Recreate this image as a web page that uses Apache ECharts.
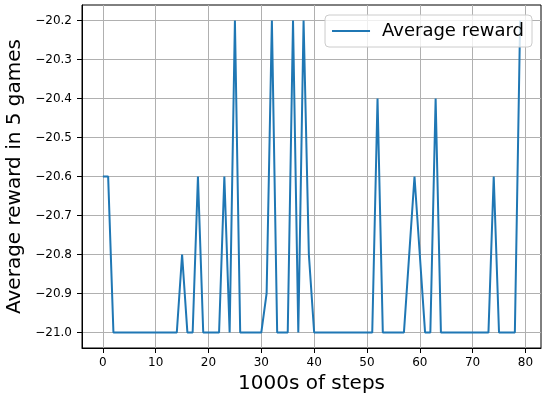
<!DOCTYPE html>
<html>
<head>
<meta charset="utf-8">
<script src="https://cdn.jsdelivr.net/npm/echarts@6/dist/echarts.min.js"></script>
<style>
  html, body { margin: 0; padding: 0; background: #fff; }
  #chart { width: 542px; height: 398px; }
</style>
</head>
<body>
<div id="chart"></div>
<script>
// Training progress: average reward over 5 games, sampled every 1000 steps
const steps = [
  0, 1, 2, 3, 4, 5, 6, 7, 8, 9,
  10, 11, 12, 13, 14, 15, 16, 17, 18, 19,
  20, 21, 22, 23, 24, 25, 26, 27, 28, 29,
  30, 31, 32, 33, 34, 35, 36, 37, 38, 39,
  40, 41, 42, 43, 44, 45, 46, 47, 48, 49,
  50, 51, 52, 53, 54, 55, 56, 57, 58, 59,
  60, 61, 62, 63, 64, 65, 66, 67, 68, 69,
  70, 71, 72, 73, 74, 75, 76, 77, 78, 79
];
const avgReward = [
  -20.6, -20.6, -21.0, -21.0, -21.0, -21.0, -21.0, -21.0, -21.0, -21.0,
  -21.0, -21.0, -21.0, -21.0, -21.0, -20.8, -21.0, -21.0, -20.6, -21.0,
  -21.0, -21.0, -21.0, -20.6, -21.0, -20.2, -21.0, -21.0, -21.0, -21.0,
  -21.0, -20.9, -20.2, -21.0, -21.0, -21.0, -20.2, -21.0, -20.2, -20.8,
  -21.0, -21.0, -21.0, -21.0, -21.0, -21.0, -21.0, -21.0, -21.0, -21.0,
  -21.0, -21.0, -20.4, -21.0, -21.0, -21.0, -21.0, -21.0, -20.8, -20.6,
  -20.8, -21.0, -21.0, -20.4, -21.0, -21.0, -21.0, -21.0, -21.0, -21.0,
  -21.0, -21.0, -21.0, -21.0, -20.6, -21.0, -21.0, -21.0, -21.0, -20.2
];
const xTicks = [0, 10, 20, 30, 40, 50, 60, 70, 80];
const yTicks = [-21.0, -20.9, -20.8, -20.7, -20.6, -20.5, -20.4, -20.3, -20.2];

const seriesName = 'Average reward';
const xTitle = '1000s of steps';
const yTitle = 'Average reward in 5 games';

const FONT = '"DejaVu Sans", sans-serif';
const minus = s => String(s).replace('-', '\u2212');

const chart = echarts.init(document.getElementById('chart'), null, { renderer: 'canvas' });

chart.setOption({
  animation: false,
  backgroundColor: '#ffffff',
  grid: {
    left: 82, right: 1, top: 5, bottom: 50,
    outerBoundsMode: 'none', containLabel: false,
    show: true, borderColor: '#000000', borderWidth: 1, backgroundColor: 'transparent'
  },
  legend: {
    data: [{ name: seriesName, icon: 'rect' }],
    right: 10, top: 15,
    itemWidth: 38, itemHeight: 2,
    padding: [7, 8, 7, 7],
    backgroundColor: 'rgba(255,255,255,0.8)',
    borderColor: '#cccccc', borderWidth: 1, borderRadius: 4,
    textStyle: { fontFamily: FONT, fontSize: 18, color: '#000', padding: [0, 0, 0, 7] }
  },
  xAxis: {
    type: 'value',
    min: -3.95, max: 82.95,
    name: xTitle, nameLocation: 'middle', nameGap: 24,
    nameTextStyle: { fontFamily: FONT, fontSize: 20, color: '#000' },
    axisLine: { show: true, onZero: false, lineStyle: { color: '#000', width: 1 } },
    axisTick: { show: true, length: 5, lineStyle: { color: '#000' }, customValues: xTicks },
    axisLabel: {
      customValues: xTicks, margin: 9,
      fontFamily: FONT, fontSize: 12, color: '#000',
      formatter: v => minus(v)
    },
    splitLine: { show: true, lineStyle: { color: '#b0b0b0', width: 1 } }
  },
  yAxis: {
    type: 'value',
    min: -21.04, max: -20.16,
    name: yTitle, nameLocation: 'middle', nameGap: 52, nameRotate: 90,
    nameTextStyle: { fontFamily: FONT, fontSize: 20, color: '#000' },
    axisLine: { show: true, onZero: false, lineStyle: { color: '#000', width: 1 } },
    axisTick: { show: true, length: 5, lineStyle: { color: '#000' }, customValues: yTicks },
    axisLabel: {
      customValues: yTicks, margin: 10,
      fontFamily: FONT, fontSize: 12, color: '#000',
      formatter: v => minus(Number(v).toFixed(1))
    },
    splitLine: { show: true, lineStyle: { color: '#b0b0b0', width: 1 } }
  },
  series: [{
    name: seriesName,
    type: 'line',
    data: steps.map((s, i) => [s, avgReward[i]]),
    symbol: 'none',
    lineStyle: { color: '#1f77b4', width: 2 },
    itemStyle: { color: '#1f77b4' },
    z: 3
  }]
});
</script>
</body>
</html>
